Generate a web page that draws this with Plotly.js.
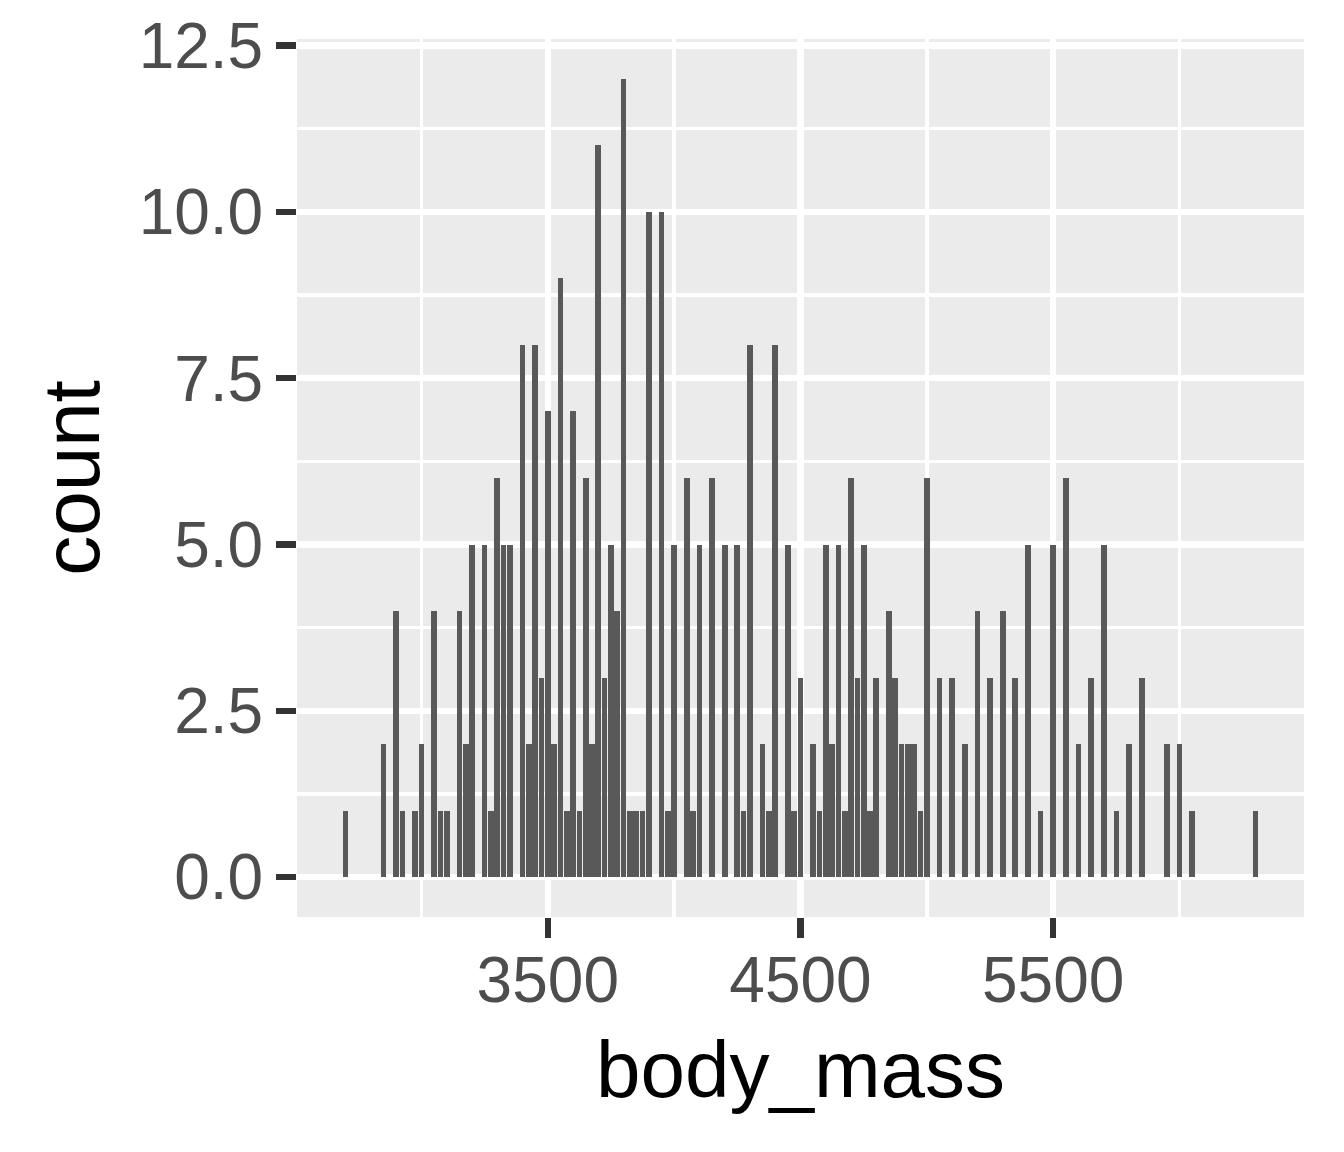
<!DOCTYPE html>
<html>
<head>
<meta charset="utf-8">
<script src="https://cdn.plot.ly/plotly-3.0.1.min.js"></script>
<style>
  html, body { margin: 0; padding: 0; background: #ffffff; }
  #chart { width: 1344px; height: 1152px; }
</style>
</head>
<body>
<div id="chart"></div>
<script>
// body mass values (g) and their counts
var bodyMass = [
  2700, 2850, 2900, 2925, 2975, 3000, 3050, 3075, 3100, 3150,
  3175, 3200, 3250, 3275, 3300, 3325, 3350, 3400, 3425, 3450,
  3475, 3500, 3525, 3550, 3575, 3600, 3625, 3650, 3675, 3700,
  3725, 3750, 3775, 3800, 3825, 3850, 3875, 3900, 3950, 3975,
  4000, 4050, 4075, 4100, 4150, 4200, 4250, 4275, 4300, 4350,
  4375, 4400, 4450, 4475, 4500, 4550, 4575, 4600, 4625, 4650,
  4675, 4700, 4725, 4750, 4775, 4800, 4850, 4875, 4900, 4925,
  4950, 4975, 5000, 5050, 5100, 5150, 5200, 5250, 5300, 5350,
  5400, 5450, 5500, 5550, 5600, 5650, 5700, 5750, 5800, 5850,
  5950, 6000, 6050, 6300
];
var counts = [
  1, 2, 4, 1, 1, 2, 4, 1, 1, 4,
  2, 5, 5, 1, 6, 5, 5, 8, 2, 8,
  3, 7, 2, 9, 1, 7, 1, 6, 2, 11,
  3, 5, 4, 12, 1, 1, 1, 10, 10, 1,
  5, 6, 1, 5, 6, 5, 5, 1, 8, 2,
  1, 8, 5, 1, 3, 2, 1, 5, 2, 5,
  1, 6, 3, 5, 1, 3, 4, 3, 2, 2,
  2, 1, 6, 3, 3, 2, 4, 3, 4, 3,
  5, 1, 5, 6, 2, 3, 5, 1, 2, 3,
  2, 2, 1, 1
];

var xTicks = [3500, 4500, 5500];
var xMinor = [3000, 4000, 5000, 6000];
var yTicks = [0, 2.5, 5, 7.5, 10, 12.5];
var yTickText = ['0.0', '2.5', '5.0', '7.5', '10.0', '12.5'];
var yMinor = [1.25, 3.75, 6.25, 8.75, 11.25];

var font = 'Liberation Sans, Arial, Helvetica, sans-serif';

var trace = {
  type: 'bar',
  x: bodyMass,
  y: counts,
  width: 22.5,
  marker: { color: '#595959', line: { width: 0 } },
  hoverinfo: 'x+y'
};

var layout = {
  width: 1344,
  height: 1152,
  margin: { l: 297, r: 40, t: 39, b: 235, pad: 0 },
  paper_bgcolor: '#ffffff',
  plot_bgcolor: '#EBEBEB',
  showlegend: false,
  bargap: 0,
  xaxis: {
    range: [2507.6, 6492.4],
    tickmode: 'array',
    tickvals: xTicks,
    ticktext: xTicks.map(String),
    ticks: 'outside',
    ticklen: 20,
    tickwidth: 6.5,
    tickcolor: '#333333',
    tickfont: { family: font, size: 64, color: '#4D4D4D' },
    ticklabelstandoff: -13,
    showgrid: true,
    gridcolor: '#ffffff',
    gridwidth: 6.5,
    minor: { tickmode: 'array', tickvals: xMinor, showgrid: true, gridcolor: '#ffffff', gridwidth: 3.3, ticks: '' },
    zeroline: false,
    showline: false,
    automargin: false,
    title: { text: 'body_mass', font: { family: font, size: 80, color: '#000000' }, standoff: 26 }
  },
  yaxis: {
    range: [-0.6, 12.6],
    tickmode: 'array',
    tickvals: yTicks,
    ticktext: yTickText,
    ticks: 'outside',
    ticklen: 20,
    tickwidth: 6.5,
    tickcolor: '#333333',
    tickfont: { family: font, size: 64, color: '#4D4D4D' },
    ticklabelstandoff: 0,
    showgrid: true,
    gridcolor: '#ffffff',
    gridwidth: 6.5,
    minor: { tickmode: 'array', tickvals: yMinor, showgrid: true, gridcolor: '#ffffff', gridwidth: 3.3, ticks: '' },
    zeroline: false,
    showline: false,
    automargin: false,
    title: { text: 'count', font: { family: font, size: 80, color: '#000000' }, standoff: 12 }
  }
};

Plotly.newPlot('chart', [trace], layout, { displayModeBar: false, staticPlot: true });
</script>
</body>
</html>
